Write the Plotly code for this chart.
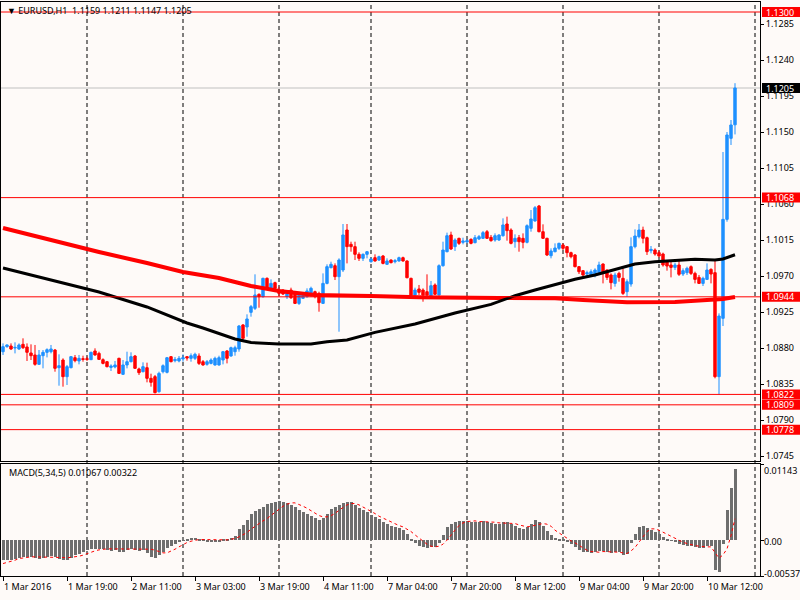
import plotly.graph_objects as go

# ---------------- data (EURUSD H1) ----------------
opens = [
    1.08754, 1.08817, 1.08825, 1.08800, 1.08788, 1.08846, 1.08813, 1.08738, 1.08713, 1.08596,
    1.08704, 1.08746, 1.08754, 1.08775, 1.08554, 1.08650, 1.08442, 1.08554, 1.08679, 1.08638,
    1.08667, 1.08667, 1.08654, 1.08763, 1.08733, 1.08654, 1.08629, 1.08558, 1.08563, 1.08671,
    1.08471, 1.08588, 1.08629, 1.08700, 1.08538, 1.08504, 1.08554, 1.08421, 1.08442, 1.08254,
    1.08504, 1.08496, 1.08692, 1.08642, 1.08638, 1.08663, 1.08692, 1.08671, 1.08671, 1.08700,
    1.08629, 1.08596, 1.08608, 1.08588, 1.08588, 1.08650, 1.08763, 1.08700, 1.08754, 1.08788,
    1.09088, 1.09063, 1.09246, 1.09296, 1.09471, 1.09442, 1.09671, 1.09533, 1.09617, 1.09525,
    1.09525, 1.09442, 1.09525, 1.09492, 1.09358, 1.09421, 1.09442, 1.09463, 1.09504, 1.09483,
    1.09358, 1.09608, 1.09804, 1.09829, 1.09692, 1.09775, 1.10275, 1.10096, 1.10067, 1.09971,
    1.09921, 1.09971, 1.09879, 1.09929, 1.09900, 1.09950, 1.09846, 1.09900, 1.09879, 1.09888,
    1.09929, 1.09888, 1.09671, 1.09463, 1.09538, 1.09525, 1.09504, 1.09454, 1.09588, 1.09463,
    1.09829, 1.10004, 1.10213, 1.10067, 1.10171, 1.10121, 1.10125, 1.10158, 1.10117, 1.10163,
    1.10171, 1.10254, 1.10183, 1.10150, 1.10150, 1.10204, 1.10350, 1.10275, 1.10129, 1.10179,
    1.10171, 1.10121, 1.10296, 1.10388, 1.10575, 1.10254, 1.10171, 1.09954, 1.10004, 1.10046,
    1.10088, 1.10067, 1.09992, 1.09963, 1.09817, 1.09767, 1.09725, 1.09713, 1.09721, 1.09742,
    1.09850, 1.09775, 1.09713, 1.09608, 1.09733, 1.09671, 1.09504, 1.09600, 1.10067, 1.10192,
    1.10275, 1.10179, 1.10017, 1.10025, 1.09992, 1.09975, 1.09879, 1.09838, 1.09808, 1.09838,
    1.09725, 1.09742, 1.09817, 1.09733, 1.09683, 1.09608, 1.09658, 1.09783, 1.09742, 1.08442,
    1.09171, 1.10408, 1.11421, 1.11590,
]
highs = [
    1.08858, 1.08846, 1.08858, 1.08871, 1.08858, 1.08921, 1.08858, 1.08846, 1.08838, 1.08775,
    1.08775, 1.08796, 1.08838, 1.08788, 1.08721, 1.08671, 1.08588, 1.08700, 1.08713, 1.08713,
    1.08704, 1.08692, 1.08754, 1.08796, 1.08754, 1.08671, 1.08638, 1.08596, 1.08638, 1.08679,
    1.08650, 1.08754, 1.08746, 1.08713, 1.08554, 1.08621, 1.08617, 1.08479, 1.08463, 1.08504,
    1.08596, 1.08688, 1.08700, 1.08688, 1.08700, 1.08721, 1.08700, 1.08733, 1.08742, 1.08733,
    1.08650, 1.08650, 1.08671, 1.08692, 1.08704, 1.08763, 1.08775, 1.08817, 1.08829, 1.09088,
    1.09100, 1.09221, 1.09338, 1.09721, 1.09483, 1.09679, 1.09683, 1.09658, 1.09629, 1.09567,
    1.09533, 1.09525, 1.09554, 1.09513, 1.09483, 1.09483, 1.09546, 1.09567, 1.09517, 1.09504,
    1.09733, 1.09846, 1.09879, 1.09858, 1.09921, 1.10350, 1.10350, 1.10129, 1.10129, 1.09996,
    1.09983, 1.10013, 1.09929, 1.09971, 1.09954, 1.09963, 1.09921, 1.09908, 1.09913, 1.09942,
    1.09942, 1.09896, 1.09679, 1.09554, 1.09588, 1.09546, 1.09721, 1.09638, 1.09608, 1.09846,
    1.10129, 1.10242, 1.10254, 1.10171, 1.10179, 1.10179, 1.10163, 1.10171, 1.10213, 1.10213,
    1.10263, 1.10275, 1.10213, 1.10233, 1.10221, 1.10421, 1.10442, 1.10296, 1.10221, 1.10213,
    1.10233, 1.10346, 1.10525, 1.10575, 1.10588, 1.10346, 1.10179, 1.10046, 1.10108, 1.10117,
    1.10108, 1.10075, 1.10004, 1.09975, 1.09825, 1.09775, 1.09767, 1.09783, 1.09796, 1.09879,
    1.09858, 1.09783, 1.09733, 1.09742, 1.09754, 1.09796, 1.09658, 1.10183, 1.10283, 1.10350,
    1.10317, 1.10192, 1.10075, 1.10046, 1.10017, 1.09992, 1.09900, 1.09900, 1.09867, 1.09900,
    1.09796, 1.09817, 1.09833, 1.09754, 1.09713, 1.09692, 1.09858, 1.09796, 1.09900, 1.09233,
    1.11250, 1.11500, 1.11650, 1.12110,
]
lows = [
    1.08713, 1.08804, 1.08775, 1.08733, 1.08775, 1.08788, 1.08638, 1.08650, 1.08579, 1.08588,
    1.08546, 1.08683, 1.08733, 1.08504, 1.08329, 1.08317, 1.08338, 1.08546, 1.08621, 1.08596,
    1.08629, 1.08638, 1.08650, 1.08704, 1.08654, 1.08596, 1.08558, 1.08513, 1.08546, 1.08475,
    1.08463, 1.08546, 1.08621, 1.08538, 1.08463, 1.08496, 1.08371, 1.08317, 1.08233, 1.08242,
    1.08483, 1.08483, 1.08621, 1.08621, 1.08621, 1.08629, 1.08642, 1.08629, 1.08650, 1.08588,
    1.08579, 1.08579, 1.08596, 1.08579, 1.08579, 1.08596, 1.08608, 1.08692, 1.08704, 1.08754,
    1.08900, 1.08942, 1.09192, 1.09275, 1.09304, 1.09429, 1.09525, 1.09525, 1.09533, 1.09442,
    1.09463, 1.09413, 1.09413, 1.09350, 1.09338, 1.09413, 1.09429, 1.09442, 1.09421, 1.09254,
    1.09350, 1.09596, 1.09796, 1.09650, 1.09004, 1.09750, 1.09858, 1.10004, 1.09900, 1.09888,
    1.09888, 1.09921, 1.09867, 1.09879, 1.09888, 1.09846, 1.09838, 1.09858, 1.09858, 1.09879,
    1.09879, 1.09671, 1.09450, 1.09450, 1.09463, 1.09379, 1.09450, 1.09442, 1.09463, 1.09454,
    1.09817, 1.09996, 1.10025, 1.10013, 1.10088, 1.10096, 1.10108, 1.10096, 1.10108, 1.10150,
    1.10163, 1.10163, 1.10129, 1.10129, 1.10138, 1.10192, 1.10142, 1.10096, 1.10054, 1.10004,
    1.10046, 1.10108, 1.10254, 1.10379, 1.10246, 1.10163, 1.09950, 1.09921, 1.09996, 1.10025,
    1.10025, 1.09933, 1.09921, 1.09808, 1.09725, 1.09692, 1.09692, 1.09692, 1.09683, 1.09733,
    1.09608, 1.09650, 1.09533, 1.09567, 1.09629, 1.09463, 1.09442, 1.09567, 1.10046, 1.10171,
    1.10108, 1.09963, 1.09983, 1.09954, 1.09933, 1.09817, 1.09767, 1.09683, 1.09775, 1.09700,
    1.09700, 1.09713, 1.09713, 1.09608, 1.09600, 1.09575, 1.09650, 1.09608, 1.08421, 1.08220,
    1.09075, 1.10379, 1.11338, 1.11470,
]
closes = [
    1.08817, 1.08838, 1.08788, 1.08808, 1.08838, 1.08804, 1.08746, 1.08704, 1.08596, 1.08713,
    1.08746, 1.08779, 1.08788, 1.08546, 1.08579, 1.08442, 1.08567, 1.08692, 1.08642, 1.08671,
    1.08658, 1.08658, 1.08746, 1.08713, 1.08658, 1.08608, 1.08567, 1.08575, 1.08588, 1.08483,
    1.08588, 1.08629, 1.08692, 1.08546, 1.08492, 1.08567, 1.08421, 1.08371, 1.08242, 1.08483,
    1.08579, 1.08679, 1.08629, 1.08658, 1.08671, 1.08679, 1.08675, 1.08704, 1.08721, 1.08608,
    1.08588, 1.08629, 1.08650, 1.08671, 1.08679, 1.08754, 1.08671, 1.08804, 1.08804, 1.09075,
    1.08921, 1.09163, 1.09317, 1.09463, 1.09442, 1.09671, 1.09546, 1.09608, 1.09546, 1.09483,
    1.09475, 1.09504, 1.09429, 1.09358, 1.09463, 1.09463, 1.09513, 1.09546, 1.09442, 1.09367,
    1.09608, 1.09817, 1.09846, 1.09692, 1.09900, 1.10213, 1.10067, 1.10067, 1.09971, 1.09921,
    1.09971, 1.10004, 1.09913, 1.09888, 1.09942, 1.09858, 1.09888, 1.09867, 1.09892, 1.09929,
    1.09888, 1.09679, 1.09463, 1.09525, 1.09496, 1.09463, 1.09463, 1.09579, 1.09471, 1.09829,
    1.10025, 1.10204, 1.10038, 1.10150, 1.10108, 1.10138, 1.10142, 1.10108, 1.10179, 1.10192,
    1.10242, 1.10171, 1.10142, 1.10204, 1.10213, 1.10338, 1.10267, 1.10108, 1.10171, 1.10129,
    1.10121, 1.10329, 1.10413, 1.10554, 1.10254, 1.10171, 1.09963, 1.10013, 1.10050, 1.10108,
    1.10046, 1.09992, 1.09942, 1.09817, 1.09754, 1.09713, 1.09742, 1.09754, 1.09775, 1.09838,
    1.09733, 1.09683, 1.09617, 1.09713, 1.09683, 1.09483, 1.09629, 1.10067, 1.10200, 1.10275,
    1.10171, 1.10004, 1.10033, 1.09975, 1.09950, 1.09838, 1.09825, 1.09808, 1.09838, 1.09721,
    1.09767, 1.09796, 1.09733, 1.09658, 1.09608, 1.09671, 1.09775, 1.09725, 1.08442, 1.09200,
    1.10408, 1.11463, 1.11588, 1.12050,
]

# moving averages (at these bar numbers)
ma_slow_bars = [0, 12, 24, 36, 45, 54, 62, 69, 78, 92, 104, 124, 138, 145, 150, 156, 168, 175, 180, 183]
ma_slow = [1.10300, 1.10150, 1.10000, 1.09863, 1.09750, 1.09675, 1.09575, 1.09513, 1.09463, 1.09450,
           1.09434, 1.09425, 1.09421, 1.09400, 1.09388, 1.09371, 1.09375, 1.09394, 1.09413, 1.09438]
ma_fast_bars = [0, 12, 24, 36, 46, 50, 58, 62, 69, 77, 81, 86, 89, 93, 103, 113, 122, 128, 133, 139,
                143, 148, 153, 158, 163, 168, 173, 178, 180, 183]
ma_fast = [1.09800, 1.09650, 1.09500, 1.09313, 1.09113, 1.09050, 1.08913, 1.08869, 1.08850, 1.08850,
           1.08879, 1.08900, 1.08941, 1.08996, 1.09100, 1.09238, 1.09346, 1.09454, 1.09525, 1.09609,
           1.09659, 1.09713, 1.09784, 1.09850, 1.09879, 1.09891, 1.09909, 1.09900, 1.09913, 1.09966]

macd_main = [
    -0.0030, -0.0030, -0.0029, -0.00275, -0.00265, -0.00255, -0.0025, -0.0025, -0.00265, -0.00275,
    -0.00265, -0.00255, -0.0024, -0.00255, -0.00275, -0.0030, -0.0030, -0.00265, -0.00225, -0.0020,
    -0.00175, -0.0015, -0.00135, -0.00125, -0.00125, -0.00135, -0.0015, -0.00155, -0.0015, -0.00175,
    -0.00175, -0.0015, -0.00135, -0.0015, -0.00165, -0.0015, -0.00185, -0.0025, -0.0026, -0.0022,
    -0.0018, -0.0012, -0.0008, -0.0005, -0.0003, -0.0001, 0.00025, 0.00035, 0.0004, 0.00025,
    0.0001, -0.00015, -0.00025, -0.00025, -0.00015, 0.00015, 0.00025, 0.00035, 0.00065, 0.00165,
    0.00225, 0.0030, 0.0040, 0.00435, 0.00465, 0.0050, 0.0055, 0.0056, 0.0058, 0.0059,
    0.0058, 0.0056, 0.0053, 0.0050, 0.0046, 0.0043, 0.0040, 0.0037, 0.0033, 0.0030,
    0.0033, 0.0040, 0.0047, 0.0050, 0.0053, 0.0056, 0.0058, 0.0057, 0.0053, 0.0049,
    0.0045, 0.0042, 0.0038, 0.0035, 0.0032, 0.0028, 0.0025, 0.0022, 0.0020, 0.0018,
    0.0016, 0.0010, 0.0002, -0.0004, -0.0008, -0.0010, -0.0011, -0.0010, -0.0010, -0.0004,
    0.0008, 0.0020, 0.0025, 0.0028, 0.0029, 0.0029, 0.0029, 0.0028, 0.0028, 0.0028,
    0.0029, 0.0028, 0.0026, 0.0025, 0.0025, 0.0028, 0.0028, 0.0024, 0.0022, 0.0019,
    0.0017, 0.0020, 0.0025, 0.0031, 0.0028, 0.0022, 0.0014, 0.0008, 0.0004, 0.0002,
    0.0001, -0.0002, -0.0005, -0.0010, -0.0014, -0.0017, -0.0018, -0.0019, -0.0018, -0.0016,
    -0.0016, -0.0017, -0.0019, -0.0018, -0.0018, -0.0022, -0.0021, -0.0004, 0.0010, 0.0020,
    0.0022, 0.0018, 0.0015, 0.0012, 0.0009, 0.0005, 0.0002, -0.0001, -0.0003, -0.0006,
    -0.0007, -0.0008, -0.0008, -0.0010, -0.0011, -0.0011, -0.0008, -0.0008, -0.0045, -0.0047,
    -0.0005, 0.0045, 0.0078, 0.01067,
]
macd_signal = [
    -0.0035, -0.00335, -0.0032, -0.0030, -0.00275, -0.00265, -0.00255, -0.0025, -0.0025, -0.0025,
    -0.0025, -0.0025, -0.0025, -0.0025, -0.00255, -0.0026, -0.00265, -0.0026, -0.00255, -0.0024,
    -0.00225, -0.0020, -0.00175, -0.0016, -0.00145, -0.00135, -0.0013, -0.0013, -0.0013, -0.0013,
    -0.0013, -0.0013, -0.0013, -0.0013, -0.0013, -0.0013, -0.0013, -0.00135, -0.0015, -0.00175,
    -0.0019, -0.0019, -0.00165, -0.00135, -0.0010, -0.00065, -0.00035, -0.00015, 0.0, 0.0001,
    0.0001, 0.0001, 0.00005, 0.0, 0.0, 0.0, 0.00005, 0.00015, 0.00025, 0.0005,
    0.00085, 0.00115, 0.00165, 0.0021, 0.0025, 0.0029, 0.00325, 0.0037, 0.0042, 0.0047,
    0.0051, 0.0054, 0.0056, 0.0056, 0.0054, 0.0051, 0.0048, 0.0044, 0.0040, 0.0037,
    0.0035, 0.0035, 0.0037, 0.0040, 0.0045, 0.0049, 0.0053, 0.0055, 0.0055, 0.0053,
    0.0050, 0.0047, 0.0043, 0.0040, 0.0036, 0.0033, 0.0030, 0.0027, 0.0024, 0.0022,
    0.0020, 0.0017, 0.0013, 0.0008, 0.0003, -0.0002, -0.0006, -0.0009, -0.0010, -0.0009,
    -0.0006, 0.0, 0.0008, 0.0015, 0.0022, 0.0026, 0.0028, 0.0029, 0.0029, 0.0028,
    0.0028, 0.0028, 0.0028, 0.0027, 0.0026, 0.0026, 0.0026, 0.0026, 0.0025, 0.0023,
    0.0021, 0.0020, 0.0021, 0.0022, 0.0024, 0.0025, 0.0024, 0.0021, 0.0015, 0.0011,
    0.0006, 0.0002, -0.0001, -0.0004, -0.0008, -0.0012, -0.0015, -0.0017, -0.0018, -0.0018,
    -0.0017, -0.0017, -0.0017, -0.0017, -0.0018, -0.0019, -0.0020, -0.0016, -0.0011, -0.0003,
    0.0006, 0.0013, 0.0017, 0.0017, 0.0015, 0.0012, 0.0009, 0.0005, 0.0002, -0.0001,
    -0.0003, -0.0005, -0.0007, -0.0008, -0.0009, -0.0010, -0.0010, -0.0010, -0.0018, -0.0027,
    -0.0022, -0.0013, 0.0007, 0.00322,
]

level_lines = [1.1300, 1.1068, 1.0944, 1.0822, 1.0809, 1.0778]
price_ticks = [1.1285, 1.1240, 1.1195, 1.1150, 1.1105, 1.1060, 1.1015,
               1.0970, 1.0925, 1.0880, 1.0835, 1.0790, 1.0745]
time_label_bars = [0, 16, 32, 48, 64, 80, 96, 112, 128, 144, 160, 176]
time_labels = ["1 Mar 2016", "1 Mar 19:00", "2 Mar 11:00", "3 Mar 03:00", "3 Mar 19:00",
               "4 Mar 11:00", "7 Mar 04:00", "7 Mar 20:00", "8 Mar 12:00", "9 Mar 04:00",
               "9 Mar 20:00", "10 Mar 12:00"]
day_start_bars = [21, 45, 69, 92, 116, 140, 164, 188]
macd_ticks = [0.01143, 0.0, -0.00537]
macd_tick_text = ["0.01143", "0.00", "-0.00537"]

# ---------------- figure ----------------
BG = "#fefaf8"
BLUE = "#1e90ff"
RED = "#ff0000"
FONT = "Noto Sans"
FS = 9

bars = list(range(len(closes)))
MAIN_DOM = [0.2003, 1.0]
MACD_DOM = [0.0, 0.1951]
PRICE_RANGE = [1.073875, 1.13125]
MACD_RANGE = [-0.00537, 0.01143]
X_RANGE = [-0.5, 189.25]

fig = go.Figure()

fig.add_trace(go.Candlestick(
    x=bars, open=opens, high=highs, low=lows, close=closes,
    increasing=dict(line=dict(color=BLUE, width=1), fillcolor=BLUE),
    decreasing=dict(line=dict(color=RED, width=1), fillcolor=RED),
    whiskerwidth=0, xaxis="x", yaxis="y", showlegend=False, hoverinfo="skip"))

fig.add_trace(go.Scatter(x=ma_slow_bars, y=ma_slow, mode="lines",
                         line=dict(color=RED, width=4), xaxis="x", yaxis="y",
                         showlegend=False, hoverinfo="skip"))
fig.add_trace(go.Scatter(x=ma_fast_bars, y=ma_fast, mode="lines",
                         line=dict(color="#000000", width=3), xaxis="x", yaxis="y",
                         showlegend=False, hoverinfo="skip"))

fig.add_trace(go.Bar(x=bars, y=macd_main, width=0.75, marker=dict(color="#6e6e6e", line=dict(width=0)),
                     xaxis="x2", yaxis="y2", showlegend=False, hoverinfo="skip"))
fig.add_trace(go.Scatter(x=bars, y=macd_signal, mode="lines",
                         line=dict(color=RED, width=1, dash="3px,3px"),
                         xaxis="x2", yaxis="y2", showlegend=False, hoverinfo="skip"))

shapes = []
# day separators (dashed)
for d in day_start_bars:
    shapes.append(dict(type="line", xref="x", yref="paper", x0=d, x1=d, y0=0, y1=1,
                       line=dict(color="#000000", width=1, dash="4px,3px"), layer="below"))
# current price line
last_close = closes[-1]
shapes.append(dict(type="line", xref="paper", yref="y", x0=0, x1=1, y0=last_close, y1=last_close,
                   line=dict(color="#c0c0c0", width=1), layer="below"))
# horizontal levels
for lv in level_lines:
    shapes.append(dict(type="line", xref="paper", yref="y", x0=0, x1=1, y0=lv, y1=lv,
                       line=dict(color=RED, width=1), layer="above"))

plot_w = 800 - 1 - 40
box_x0 = 1.0 + 2 / plot_w
box_x1 = 1.0 + 40 / plot_w
half_h = 5 * (PRICE_RANGE[1] - PRICE_RANGE[0]) / 459

annotations = []
for lv, col in [(v, RED) for v in level_lines] + [(last_close, "#000000")]:
    shapes.append(dict(type="rect", xref="paper", yref="y", x0=box_x0, x1=box_x1,
                       y0=lv - half_h, y1=lv + half_h, fillcolor=col, line=dict(width=0),
                       layer="above"))
    annotations.append(dict(xref="paper", yref="y", x=box_x0, y=lv, xanchor="left", yanchor="middle",
                            xshift=2, text=f"{lv:.4f}", showarrow=False,
                            font=dict(family=FONT, size=FS, color="#ffffff")))

# header and indicator title
header = ("\u25bc EURUSD,H1\u00a0\u00a0" +
          f"{opens[-1]:.4f} {highs[-1]:.4f} {lows[-1]:.4f} {closes[-1]:.4f}")
annotations.append(dict(xref="paper", yref="paper", x=0, y=1, xanchor="left", yanchor="top",
                        xshift=4, yshift=0, text=header, showarrow=False,
                        font=dict(family=FONT, size=FS, color="#000000")))
annotations.append(dict(xref="paper", yref="paper", x=0, y=MACD_DOM[1], xanchor="left", yanchor="top",
                        xshift=6, yshift=0,
                        text=f"MACD(5,34,5) {macd_main[-1]:.5f} {macd_signal[-1]:.5f}",
                        showarrow=False, font=dict(family=FONT, size=FS, color="#000000")))
# MACD scale labels
for v, t, sh in zip(macd_ticks, macd_tick_text, [-6, -1, 3]):
    annotations.append(dict(xref="paper", yref="y2", x=1.0, y=v, xanchor="left", yanchor="middle",
                            xshift=2, yshift=sh, text=t, showarrow=False,
                            font=dict(family=FONT, size=FS, color="#000000")))

axis_common = dict(showgrid=False, zeroline=False, showline=True, linecolor="#000000",
                   linewidth=1, mirror=True)

fig.update_layout(
    width=800, height=600,
    margin=dict(l=1, r=40, t=2, b=24),
    paper_bgcolor=BG, plot_bgcolor="rgba(0,0,0,0)",
    showlegend=False, hovermode=False,
    font=dict(family=FONT, size=FS, color="#000000"),
    boxgap=0.4, boxgroupgap=0.0,
    bargap=0,
    xaxis=dict(domain=[0, 1], range=X_RANGE, anchor="y", showticklabels=False, ticks="",
               rangeslider=dict(visible=False), **axis_common),
    xaxis2=dict(domain=[0, 1], range=X_RANGE, anchor="y2", matches="x",
                tickmode="array", tickvals=time_label_bars, ticktext=time_labels,
                ticks="outside", ticklen=4, tickcolor="#000000",
                ticklabelposition="outside right", ticklabelstandoff=2,
                tickfont=dict(family=FONT, size=FS, color="#000000"), **axis_common),
    yaxis=dict(domain=MAIN_DOM, range=PRICE_RANGE, anchor="x", side="right",
               tickmode="array", tickvals=price_ticks, ticktext=[f"{v:.4f}" for v in price_ticks],
               ticks="outside", ticklen=3, tickcolor="#000000",
               tickfont=dict(family=FONT, size=FS, color="#000000"), **axis_common),
    yaxis2=dict(domain=MACD_DOM, range=MACD_RANGE, anchor="x2", side="right",
                tickmode="array", tickvals=macd_ticks, showticklabels=False,
                ticks="outside", ticklen=3, tickcolor="#000000", **axis_common),
    shapes=shapes,
    annotations=annotations,
)

fig.write_html(
    "out.html",
    config={"displayModeBar": False},
    post_script="document.body.style.margin='0';document.body.style.overflow='hidden';"
                "document.body.style.background='" + BG + "';",
)
